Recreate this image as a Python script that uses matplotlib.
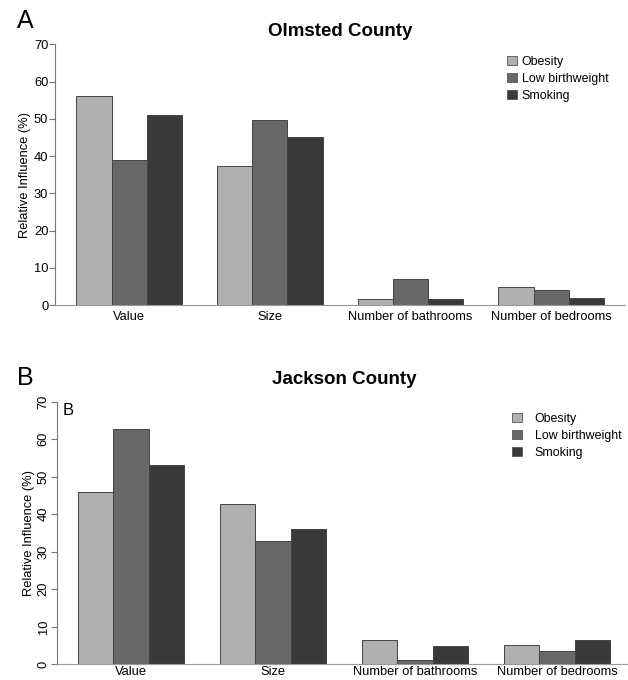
import matplotlib
matplotlib.use("Agg")
import matplotlib.pyplot as plt
from matplotlib.patches import Patch
import numpy as np

plt.rcParams['font.family'] = ['Liberation Sans', 'DejaVu Sans']

categories = ["Value", "Size", "Number of bathrooms", "Number of bedrooms"]
series = ["Obesity", "Low birthweight", "Smoking"]
colors = ["#b0b0b0", "#686868", "#3a3a3a"]

olmsted_obesity = [56.0, 37.3, 1.5, 4.9]
olmsted_lowbw = [39.0, 49.6, 7.1, 3.9]
olmsted_smoking = [51.0, 45.0, 1.7, 2.0]

jackson_obesity = [45.9, 42.8, 6.4, 5.0]
jackson_lowbw = [62.8, 32.7, 1.1, 3.5]
jackson_smoking = [53.0, 36.0, 4.7, 6.4]

yticks = [0, 10, 20, 30, 40, 50, 60, 70]

W, H = 628, 680
fig = plt.figure(figsize=(W / 100, H / 100), dpi=100)
FS = 9.3


def px_axes(left, right, bottom, top):
    return fig.add_axes([left / W, 1 - bottom / H, (right - left) / W, (bottom - top) / H])


def draw_panel(ax, data, title, title_y, rot_ticks, legend_xy, legend_gap, xpad):
    n = len(categories)
    for s, (vals, col) in enumerate(zip(data, colors)):
        x = [1 + 4 * i + s for i in range(n)]
        ax.bar(x, vals, width=1.0, align='edge', color=col,
               edgecolor='#444444', linewidth=0.7, zorder=2)
    ax.set_xlim(0.4, 16.6)
    ax.set_ylim(0, 70)
    for sp in ['top', 'right']:
        ax.spines[sp].set_visible(False)
    ax.spines['left'].set_color('#777777')
    ax.spines['bottom'].set_color('#999999')
    ax.spines['left'].set_linewidth(0.8)
    ax.spines['bottom'].set_linewidth(0.8)
    ax.set_yticks(yticks)
    ax.tick_params(axis='y', length=4, width=0.8, color='#777777', labelsize=FS, pad=1)
    if rot_ticks:
        for lab in ax.get_yticklabels():
            lab.set_rotation(90)
            lab.set_va('center')
    centers = [2.5 + 4 * i for i in range(n)]
    ax.set_xticks(centers)
    ax.set_xticklabels(categories)
    ax.tick_params(axis='x', length=0, labelsize=FS, pad=xpad)
    ax.set_ylabel("Relative Influence (%)", fontsize=FS, labelpad=2)
    bb = ax.get_position()
    fig.text((bb.x0 + bb.x1) / 2, 1 - title_y / H, title, fontsize=13.5,
             fontweight='bold', ha='center', va='center')
    handles = [Patch(facecolor=c, edgecolor='#555555', linewidth=0.6) for c in colors]
    ax.legend(handles, series, loc='upper left', bbox_to_anchor=legend_xy,
              bbox_transform=fig.transFigure, frameon=False, fontsize=8.9,
              handlelength=0.8, handleheight=0.8, handletextpad=legend_gap,
              labelspacing=0.4, borderpad=0, borderaxespad=0)


axA = px_axes(55.3, 625, 305, 44.3)
draw_panel(axA, [olmsted_obesity, olmsted_lowbw, olmsted_smoking],
           "Olmsted County", 31.5, False, (507 / W, 1 - 56 / H), 0.4, 4)

axB = px_axes(56.7, 631.8, 664, 401.7)
draw_panel(axB, [jackson_obesity, jackson_lowbw, jackson_smoking],
           "Jackson County", 380, True, (512 / W, 1 - 413 / H), 1.05, 1.2)
axB.text(63 / W, 1 - 410.5 / H, "B", transform=fig.transFigure, fontsize=12,
         va='center', ha='left')

fig.text(17 / W, 1 - 21 / H, "A", fontsize=18, va='center', ha='left')
fig.text(17 / W, 1 - 378 / H, "B", fontsize=18, va='center', ha='left')

fig.savefig("out.png", dpi=100)
